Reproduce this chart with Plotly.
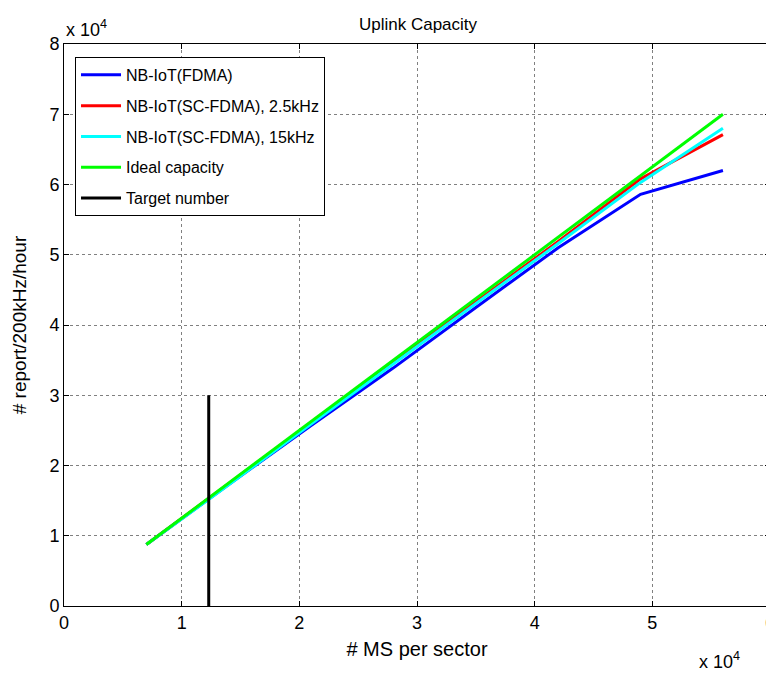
import plotly.graph_objects as go

# data
ms_per_sector = [7000, 14000, 21000, 28000, 35000, 42000, 49000, 56000]
fdma = [8750, 17300, 25700, 33900, 42500, 51000, 58600, 62000]
scfdma_25 = [8750, 17450, 26100, 34700, 43300, 51900, 60800, 67100]
scfdma_15 = [8750, 17250, 25900, 34450, 43000, 51600, 60300, 68000]
ideal = [8750, 17500, 26250, 35000, 43750, 52500, 61250, 70000]
target_x = [12300, 12300]
target_y = [0, 30000]

x_ticks = [0, 10000, 20000, 30000, 40000, 50000, 60000]
x_ticklabels = ["0", "1", "2", "3", "4", "5", "6"]
y_ticks = [0, 10000, 20000, 30000, 40000, 50000, 60000, 70000, 80000]
y_ticklabels = ["0", "1", "2", "3", "4", "5", "6", "7", "8"]

FONT = "Liberation Sans, Arial, sans-serif"

series = [
    (fdma, "NB-IoT(FDMA)", "#0000ff"),
    (scfdma_25, "NB-IoT(SC-FDMA), 2.5kHz", "#ff0000"),
    (scfdma_15, "NB-IoT(SC-FDMA), 15kHz", "#00ffff"),
    (ideal, "Ideal capacity", "#00ff00"),
]

fig = go.Figure()
for i, (ys, name, color) in enumerate(series):
    fig.add_trace(go.Scatter(x=ms_per_sector, y=ys, mode="lines", name=name,
                             legendgroup=f"g{i}",
                             line=dict(color=color, width=3)))
fig.add_trace(go.Scatter(x=target_x, y=target_y, mode="lines", name="Target number",
                         legendgroup="g4",
                         line=dict(color="#000000", width=3)))

axis_common = dict(
    showline=True, linecolor="black", linewidth=1, mirror="ticks",
    ticks="inside", ticklen=5, tickcolor="black",
    showgrid=True, gridcolor="#808080", griddash="dot", gridwidth=1,
    zeroline=False, automargin=False, ticklabeloverflow="allow",
    tickfont=dict(family=FONT, size=18, color="black"),
)

# the page body adds an 8px margin, so the figure is sized/offset to compensate
W, H = 766, 665
fig.update_layout(
    width=W, height=H,
    margin=dict(l=56, r=4, t=36, b=67),
    paper_bgcolor="white", plot_bgcolor="white",
    font=dict(family=FONT, color="black"),
    title=dict(text="Uplink Capacity", x=(418 - 8) / W, xanchor="center", xref="container",
               yref="container", y=1 - 16 / H, yanchor="middle",
               font=dict(family=FONT, size=17, color="black")),
    xaxis=dict(range=[0, 60000], tickvals=x_ticks, ticktext=x_ticklabels,
               title=dict(text="# MS per sector", font=dict(family=FONT, size=20), standoff=10),
               **axis_common),
    yaxis=dict(range=[0, 80000], tickvals=y_ticks, ticktext=y_ticklabels,
               title=dict(text="# report/200kHz/hour", font=dict(family=FONT, size=19), standoff=17),
               **axis_common),
    legend=dict(x=0.0156, y=0.977, xanchor="left", yanchor="top",
                bgcolor="white", bordercolor="black", borderwidth=1,
                font=dict(family=FONT, size=16, color="black"),
                tracegroupgap=7, itemwidth=40),
    showlegend=True,
)

fig.add_annotation(text="x 10<sup>4</sup>", xref="paper", yref="paper", x=0.0, y=1.0,
                   xanchor="left", yanchor="bottom", showarrow=False, yshift=2,
                   font=dict(family=FONT, size=18, color="black"))
fig.add_annotation(text="x 10<sup>4</sup>", xref="paper", yref="paper", x=0.96, y=0.0,
                   xanchor="right", yanchor="top", showarrow=False, yshift=-41,
                   font=dict(family=FONT, size=18, color="black"))

fig.write_html("out.html")
